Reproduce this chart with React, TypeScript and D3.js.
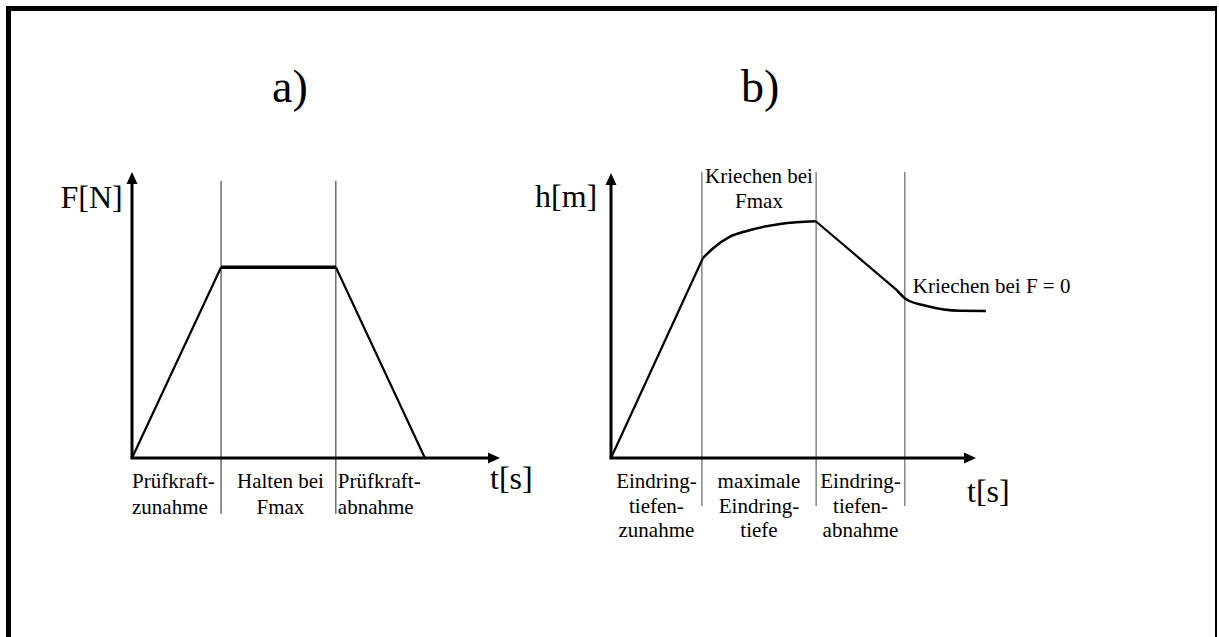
import React from "react";
import * as d3 from "d3";

// Panel a) – force over time (load, hold, unload)
const phaseBoundsA = [24.2, 55.4];
const forceT = [0, 24.2, 55.4, 79.6];
const forceF = [0, 1, 1, 0];
const phaseLabelsA = [
  ["Prüfkraft-", "zunahme"],
  ["Halten bei", "Fmax"],
  ["Prüfkraft-", "abnahme"],
];

// Panel b) – indentation depth over time
const phaseBoundsB = [24.9, 56.2, 80.5];
const loadT = [0, 25.2];
const loadH = [0, 1.053];
const creepMaxT = [25.2, 28.0, 32.6, 37.2, 46.3, 50.9, 56.1];
const creepMaxH = [1.053, 1.104, 1.165, 1.195, 1.232, 1.241, 1.246];
const unloadT = [56.1, 78.3];
const unloadH = [1.246, 0.884];
const creepZeroT = [78.3, 80.8, 86.5, 95.6, 102.7];
const creepZeroH = [0.884, 0.837, 0.8, 0.775, 0.774];
const phaseLabelsB = [
  ["Eindring-", "tiefen-", "zunahme"],
  ["maximale", "Eindring-", "tiefe"],
  ["Eindring-", "tiefen-", "abnahme"],
];

const W = 1219;
const H = 637;
const FONT = "'Liberation Serif', 'Times New Roman', Times, serif";

const zip = (xs: number[], ys: number[]) => xs.map((x, i) => [x, ys[i]] as [number, number]);

function Arrow({ x, y, dir }: { x: number; y: number; dir: "up" | "right" }) {
  const len = 12;
  const hw = 5.5;
  const d =
    dir === "up"
      ? `M${x},${y} L${x - hw},${y + len} L${x + hw},${y + len} Z`
      : `M${x},${y} L${x - len},${y - hw} L${x - len},${y + hw} Z`;
  return <path d={d} fill="#000" />;
}

export default function App() {
  // scales for panel a
  const xA = d3.scaleLinear().domain([0, 100]).range([132, 500]);
  const yA = d3.scaleLinear().domain([0, 1.5]).range([458, 172]);
  // scales for panel b
  const xB = d3.scaleLinear().domain([0, 100]).range([611, 976]);
  const yB = d3.scaleLinear().domain([0, 1.5]).range([458, 173]);

  const lineA = d3.line<[number, number]>().x((d) => xA(d[0])).y((d) => yA(d[1]));
  const forcePts = zip(forceT, forceF);

  const straightB = d3.line<[number, number]>().x((d) => xB(d[0])).y((d) => yB(d[1]));
  const smoothB = d3
    .line<[number, number]>()
    .x((d) => xB(d[0]))
    .y((d) => yB(d[1]))
    .curve(d3.curveMonotoneX);

  const colsA = [0, ...phaseBoundsA];
  const colsB = [0, ...phaseBoundsB];

  const textStyle = { fontFamily: FONT, fill: "#000" } as const;

  return (
    <svg
      width={W}
      height={H}
      viewBox={`0 0 ${W} ${H}`}
      style={{ position: "absolute", left: 0, top: 0, display: "block", background: "#fff" }}
    >
      <rect x={0} y={0} width={W} height={H} fill="#fff" />
      {/* frame */}
      <line x1={8.5} y1={6} x2={8.5} y2={H + 10} stroke="#000" strokeWidth={5} />
      <line x1={6} y1={8.5} x2={1217} y2={8.5} stroke="#000" strokeWidth={5} />
      <line x1={1216} y1={6} x2={1216} y2={H + 10} stroke="#000" strokeWidth={2} />

      {/* titles */}
      <text x={272} y={102} fontSize={46} style={textStyle}>a)</text>
      <text x={741} y={102} fontSize={46} style={textStyle}>b)</text>

      {/* ---------- panel a ---------- */}
      {phaseBoundsA.map((t) => (
        <line
          key={`va${t}`}
          x1={xA(t)}
          x2={xA(t)}
          y1={yA(1.454)}
          y2={yA(-0.293)}
          stroke="#222"
          strokeWidth={1}
        />
      ))}
      <path d={lineA(forcePts.slice(0, 2)) ?? ""} fill="none" stroke="#000" strokeWidth={2.2} />
      <path d={lineA(forcePts.slice(1, 3)) ?? ""} fill="none" stroke="#000" strokeWidth={3.5} />
      <path d={lineA(forcePts.slice(2, 4)) ?? ""} fill="none" stroke="#000" strokeWidth={2.2} />
      {/* axes a */}
      <line x1={xA(0)} y1={yA(0)} x2={xA(0)} y2={yA(1.5) + 8} stroke="#000" strokeWidth={3} />
      <line x1={xA(0) - 1.5} y1={yA(0)} x2={xA(100) - 8} y2={yA(0)} stroke="#000" strokeWidth={3} />
      <Arrow x={xA(0)} y={yA(1.5)} dir="up" />
      <Arrow x={xA(100)} y={yA(0)} dir="right" />
      <text x={60.5} y={207.5} fontSize={32} style={textStyle}>F[N]</text>
      <text x={490} y={488.5} fontSize={32} style={textStyle}>t[s]</text>
      {phaseLabelsA.map((lines, i) => {
        const left = xA(colsA[i]);
        const anchor = i === 1 ? "middle" : "start";
        const x = i === 1 ? (xA(colsA[1]) + xA(colsA[2])) / 2 + 2 : left + (i === 0 ? 0 : 2);
        return lines.map((s, j) => (
          <text key={`la${i}${j}`} x={x} y={488 + j * 25.5} fontSize={21} textAnchor={anchor} style={textStyle}>
            {s}
          </text>
        ));
      })}

      {/* ---------- panel b ---------- */}
      {phaseBoundsB.map((t) => (
        <line
          key={`vb${t}`}
          x1={xB(t)}
          x2={xB(t)}
          y1={yB(1.505)}
          y2={yB(-0.253)}
          stroke="#666"
          strokeWidth={1.2}
        />
      ))}
      <path d={straightB(zip(loadT, loadH)) ?? ""} fill="none" stroke="#000" strokeWidth={2.2} />
      <path d={smoothB(zip(creepMaxT, creepMaxH)) ?? ""} fill="none" stroke="#000" strokeWidth={2.5} />
      <path d={straightB(zip(unloadT, unloadH)) ?? ""} fill="none" stroke="#000" strokeWidth={2.2} />
      <path d={smoothB(zip(creepZeroT, creepZeroH)) ?? ""} fill="none" stroke="#000" strokeWidth={2.5} />
      {/* axes b */}
      <line x1={xB(0)} y1={yB(0)} x2={xB(0)} y2={yB(1.5) + 8} stroke="#000" strokeWidth={3} />
      <line x1={xB(0) - 1.5} y1={yB(0)} x2={xB(100) - 8} y2={yB(0)} stroke="#000" strokeWidth={3} />
      <Arrow x={xB(0)} y={yB(1.5)} dir="up" />
      <Arrow x={xB(100)} y={yB(0)} dir="right" />
      <text x={535} y={207} fontSize={32} style={textStyle}>h[m]</text>
      <text x={967} y={501.5} fontSize={32} style={textStyle}>t[s]</text>
      <text x={(xB(phaseBoundsB[0]) + xB(phaseBoundsB[1])) / 2} y={183} fontSize={21} textAnchor="middle" style={textStyle}>
        Kriechen bei
      </text>
      <text x={(xB(phaseBoundsB[0]) + xB(phaseBoundsB[1])) / 2} y={208} fontSize={21} textAnchor="middle" style={textStyle}>
        Fmax
      </text>
      <text x={xB(phaseBoundsB[2]) + 8} y={293} fontSize={21} style={textStyle}>
        Kriechen bei F = 0
      </text>
      {phaseLabelsB.map((lines, i) => {
        const cx = (xB(colsB[i]) + xB(colsB[i + 1])) / 2;
        return lines.map((s, j) => (
          <text key={`lb${i}${j}`} x={cx} y={488 + j * 24.5} fontSize={21} textAnchor="middle" style={textStyle}>
            {s}
          </text>
        ));
      })}
    </svg>
  );
}
